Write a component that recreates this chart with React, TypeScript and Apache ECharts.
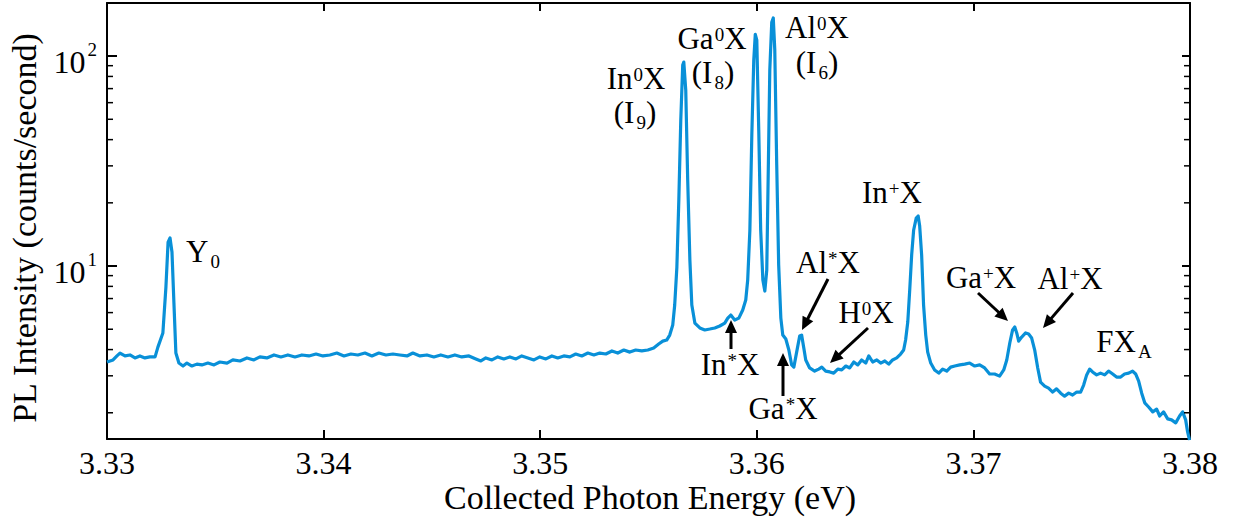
import React, { useEffect, useRef } from 'react';
import * as echarts from 'echarts';

// Collected photon energy (eV)
const energy = [
  3.33000, 3.33028, 3.33046, 3.33060, 3.33083, 3.33106, 3.33129, 3.33152, 3.33175, 3.33198,
  3.33222, 3.33235, 3.33258, 3.33272, 3.33282, 3.33291, 3.33300, 3.33309, 3.33318, 3.33332,
  3.33351, 3.33369, 3.33392, 3.33415, 3.33438, 3.33466, 3.33494, 3.33521, 3.33554, 3.33581,
  3.33614, 3.33646, 3.33678, 3.33706, 3.33738, 3.33771, 3.33803, 3.33835, 3.33868, 3.33900,
  3.33932, 3.33965, 3.33997, 3.34029, 3.34061, 3.34094, 3.34126, 3.34158, 3.34191, 3.34223,
  3.34255, 3.34288, 3.34320, 3.34352, 3.34385, 3.34412, 3.34445, 3.34477, 3.34509, 3.34541,
  3.34574, 3.34606, 3.34638, 3.34671, 3.34703, 3.34726, 3.34749, 3.34777, 3.34804, 3.34832,
  3.34860, 3.34888, 3.34915, 3.34943, 3.34971, 3.34998, 3.35026, 3.35054, 3.35081, 3.35109,
  3.35137, 3.35164, 3.35192, 3.35220, 3.35248, 3.35275, 3.35303, 3.35331, 3.35358, 3.35386,
  3.35414, 3.35441, 3.35469, 3.35497, 3.35524, 3.35547, 3.35566, 3.35584, 3.35598, 3.35612,
  3.35621, 3.35631, 3.35640, 3.35649, 3.35658, 3.35663, 3.35672, 3.35681, 3.35691, 3.35700,
  3.35714, 3.35737, 3.35760, 3.35783, 3.35806, 3.35829, 3.35852, 3.35866, 3.35880, 3.35898,
  3.35917, 3.35935, 3.35949, 3.35958, 3.35968, 3.35977, 3.35986, 3.35993, 3.36000, 3.36009,
  3.36018, 3.36028, 3.36037, 3.36046, 3.36053, 3.36060, 3.36069, 3.36076, 3.36083, 3.36092,
  3.36101, 3.36111, 3.36120, 3.36134, 3.36148, 3.36161, 3.36171, 3.36184, 3.36198, 3.36207,
  3.36217, 3.36226, 3.36244, 3.36267, 3.36286, 3.36300, 3.36318, 3.36337, 3.36355, 3.36374,
  3.36392, 3.36411, 3.36429, 3.36448, 3.36466, 3.36484, 3.36503, 3.36517, 3.36535, 3.36554,
  3.36572, 3.36591, 3.36609, 3.36627, 3.36646, 3.36664, 3.36678, 3.36687, 3.36697, 3.36706,
  3.36715, 3.36724, 3.36736, 3.36745, 3.36752, 3.36761, 3.36770, 3.36780, 3.36789, 3.36803,
  3.36821, 3.36840, 3.36858, 3.36877, 3.36895, 3.36914, 3.36937, 3.36960, 3.36983, 3.37006,
  3.37029, 3.37052, 3.37075, 3.37098, 3.37121, 3.37140, 3.37154, 3.37168, 3.37181, 3.37191,
  3.37200, 3.37209, 3.37223, 3.37241, 3.37255, 3.37269, 3.37283, 3.37297, 3.37310, 3.37329,
  3.37347, 3.37366, 3.37384, 3.37403, 3.37421, 3.37440, 3.37458, 3.37477, 3.37495, 3.37509,
  3.37523, 3.37537, 3.37550, 3.37569, 3.37587, 3.37606, 3.37624, 3.37643, 3.37661, 3.37680,
  3.37698, 3.37717, 3.37735, 3.37749, 3.37763, 3.37777, 3.37791, 3.37809, 3.37828, 3.37846,
  3.37860, 3.37878, 3.37897, 3.37915, 3.37934, 3.37952, 3.37966, 3.37980, 3.37989, 3.37998,
];

// PL intensity (counts/second)
const intensity = [
  3.49, 3.57, 3.73, 3.85, 3.73, 3.77, 3.65, 3.73, 3.65, 3.69,
  3.69, 4.11, 4.80, 7.94, 13.0, 13.6, 11.66, 6.66, 3.85, 3.45,
  3.34, 3.45, 3.34, 3.41, 3.38, 3.45, 3.38, 3.49, 3.45, 3.57,
  3.53, 3.65, 3.57, 3.69, 3.65, 3.77, 3.69, 3.77, 3.69, 3.77,
  3.73, 3.81, 3.73, 3.77, 3.85, 3.73, 3.81, 3.77, 3.85, 3.73,
  3.85, 3.77, 3.81, 3.77, 3.73, 3.85, 3.73, 3.77, 3.69, 3.77,
  3.69, 3.77, 3.69, 3.73, 3.61, 3.53, 3.65, 3.57, 3.69, 3.61,
  3.69, 3.61, 3.73, 3.65, 3.57, 3.69, 3.61, 3.73, 3.65, 3.73,
  3.69, 3.81, 3.73, 3.85, 3.77, 3.85, 3.81, 3.94, 3.85, 3.98,
  3.89, 3.98, 3.94, 3.98, 4.07, 4.25, 4.39, 4.44, 4.69, 5.24,
  6.52, 9.89, 20.6, 49.5, 90.6, 93.6, 68.9, 25.7, 10.7, 6.52,
  5.35, 5.07, 4.96, 5.01, 5.07, 5.18, 5.35, 5.65, 5.84, 5.53,
  5.65, 6.17, 6.89, 8.58, 14.8, 42.1, 95.7, 127, 119, 44.4,
  14.8, 8.58, 7.60, 9.57, 28.7, 85.8, 145, 152, 107, 30.3,
  10.1, 5.65, 4.69, 4.49, 3.98, 3.38, 3.30, 3.89, 4.64, 4.69,
  4.07, 3.57, 3.27, 3.16, 3.23, 3.30, 3.16, 3.13, 3.09, 3.23,
  3.20, 3.34, 3.27, 3.49, 3.38, 3.57, 3.45, 3.73, 3.49, 3.57,
  3.45, 3.53, 3.41, 3.57, 3.65, 3.81, 3.98, 4.44, 5.41, 7.69,
  11.3, 14.8, 16.9, 17.3, 15.5, 11.3, 6.52, 4.69, 3.89, 3.45,
  3.20, 3.09, 3.23, 3.16, 3.30, 3.34, 3.38, 3.41, 3.45, 3.34,
  3.38, 3.27, 3.06, 3.06, 2.99, 3.20, 3.57, 4.30, 4.96, 5.12,
  4.80, 4.39, 4.59, 4.80, 4.74, 4.54, 3.98, 3.27, 2.80, 2.68,
  2.62, 2.51, 2.60, 2.48, 2.40, 2.48, 2.43, 2.51, 2.51, 2.71,
  3.03, 3.23, 3.13, 3.03, 3.09, 3.03, 3.16, 3.06, 2.96, 2.96,
  3.06, 3.09, 3.16, 3.06, 2.83, 2.48, 2.23, 2.13, 2.02, 2.08,
  1.93, 2.02, 1.87, 1.85, 1.79, 1.93, 2.02, 1.85, 1.62, 1.48,
];

const xMin = 3.33;
const xMax = 3.38;
const xInterval = 0.01;
const yMin = 1.5;
const yMax = 179;
const minorTickValues = [2, 3, 4, 5, 6, 7, 8, 9, 20, 30, 40, 50, 60, 70, 80, 90];

const xTitle = 'Collected Photon Energy (eV)';
const yTitle = 'PL Intensity (counts/second)';

// peak labels: m = normal, p = superscript, b = subscript
const labels: { parts: [string, string][]; x: number; top: number }[] = [
  { parts: [['m', 'Y'], ['b', '0']], x: 203, top: 236 },
  { parts: [['m', 'In'], ['p', '0'], ['m', 'X']], x: 636, top: 63 },
  { parts: [['m', '(I'], ['b', '9'], ['m', ')']], x: 635, top: 97 },
  { parts: [['m', 'Ga'], ['p', '0'], ['m', 'X']], x: 712, top: 23 },
  { parts: [['m', '(I'], ['b', '8'], ['m', ')']], x: 713, top: 57 },
  { parts: [['m', 'Al'], ['p', '0'], ['m', 'X']], x: 817, top: 12 },
  { parts: [['m', '(I'], ['b', '6'], ['m', ')']], x: 817, top: 47 },
  { parts: [['m', 'In'], ['p', '+'], ['m', 'X']], x: 892, top: 177 },
  { parts: [['m', 'Al'], ['p', '*'], ['m', 'X']], x: 828, top: 247 },
  { parts: [['m', 'H'], ['p', '0'], ['m', 'X']], x: 866, top: 297 },
  { parts: [['m', 'Ga'], ['p', '+'], ['m', 'X']], x: 981, top: 262 },
  { parts: [['m', 'Al'], ['p', '+'], ['m', 'X']], x: 1070, top: 263 },
  { parts: [['m', 'FX'], ['b', 'A']], x: 1124, top: 326 },
  { parts: [['m', 'In'], ['p', '*'], ['m', 'X']], x: 730, top: 349 },
  { parts: [['m', 'Ga'], ['p', '*'], ['m', 'X']], x: 783, top: 393 },
];

// arrows: [startX, startY, tipX, tipY]
const arrows: [number, number, number, number][] = [
  [731, 349, 731, 320],
  [783, 396, 783, 353],
  [828, 279, 802, 330],
  [868, 328, 830, 363],
  [978, 293, 1008, 321],
  [1073, 293, 1043, 328],
];

const FONT = 'Liberation Serif';
const LINE_COLOR = '#0990d8';

const rich = {
  m: { fontSize: 31, lineHeight: 31, fontFamily: FONT, verticalAlign: 'top', color: '#000' },
  p: { fontSize: 19, lineHeight: 19, fontFamily: FONT, verticalAlign: 'top', padding: [2, 0, 0, 1], color: '#000' },
  b: { fontSize: 19, lineHeight: 19, fontFamily: FONT, verticalAlign: 'top', padding: [16, 0, 0, 2], color: '#000' },
};

function textEl(text: string, x: number, y: number, r: any, size: number, rotation = 0) {
  return {
    type: 'text',
    x,
    y,
    rotation,
    silent: true,
    style: {
      text,
      rich: r,
      fontFamily: FONT,
      fontSize: size,
      fill: '#000',
      align: 'center',
      textAlign: 'center',
      verticalAlign: rotation ? 'middle' : 'top',
      textVerticalAlign: rotation ? 'middle' : 'top',
    },
  };
}

function buildGraphics() {
  const els: any[] = [];
  labels.forEach((l) => {
    els.push(textEl(l.parts.map(([k, t]) => `{${k}|${t}}`).join(''), l.x, l.top, rich, 31));
  });
  // axis titles
  els.push(textEl(xTitle, 650, 480, undefined, 34));
  els.push(textEl(yTitle, 24, 228, undefined, 34, Math.PI / 2));
  arrows.forEach(([sx, sy, tx, ty]) => {
    const dx = tx - sx;
    const dy = ty - sy;
    const len = Math.sqrt(dx * dx + dy * dy);
    const ux = dx / len;
    const uy = dy / len;
    const head = 13;
    const hw = 6;
    const bx = tx - ux * head;
    const by = ty - uy * head;
    els.push({
      type: 'line',
      silent: true,
      shape: { x1: sx, y1: sy, x2: bx + ux * 2, y2: by + uy * 2 },
      style: { stroke: '#000', lineWidth: 3 },
    });
    els.push({
      type: 'polygon',
      silent: true,
      shape: {
        points: [
          [tx, ty],
          [bx - uy * hw, by + ux * hw],
          [bx + uy * hw, by - ux * hw],
        ],
      },
      style: { fill: '#000' },
    });
  });
  return els;
}

export default function App() {
  const ref = useRef<HTMLDivElement>(null);

  useEffect(() => {
    document.body.style.margin = '0';
    if (!ref.current) return;
    const chart = echarts.init(ref.current, undefined, { renderer: 'svg' });

    const lineData = energy.map((e, i) => [e, intensity[i]]);
    const yLabelFmt = (v: number) => {
      const lg = Math.log10(v);
      const e = Math.round(lg);
      if (Math.abs(lg - e) > 1e-6) return '';
      return `{n|10}{e|${e}}`;
    };

    chart.setOption({
      animation: false,
      backgroundColor: '#fff',
      textStyle: { fontFamily: FONT },
      grid: { left: 107, right: 44, top: 3, bottom: 86, containLabel: false, outerBoundsMode: 'none' },
      xAxis: [
        {
          type: 'value',
          position: 'bottom',
          min: xMin,
          max: xMax,
          interval: xInterval,
          axisLine: { show: true, onZero: false, lineStyle: { color: '#000', width: 2 } },
          axisTick: { show: true, inside: true, length: 9, lineStyle: { color: '#000', width: 2 } },
          axisLabel: {
            margin: 8,
            fontFamily: FONT,
            fontSize: 32,
            color: '#000',
            formatter: (v: number) => `{t|${v.toFixed(2)}}`,
            rich: { t: { fontFamily: FONT, fontSize: 32, color: '#000' } },
          },
          splitLine: { show: false },
        },
        {
          type: 'value',
          position: 'top',
          min: xMin,
          max: xMax,
          interval: xInterval,
          axisLine: { show: true, onZero: false, lineStyle: { color: '#000', width: 2 } },
          axisTick: { show: true, inside: true, length: 8, lineStyle: { color: '#000', width: 2 } },
          axisLabel: { show: false },
          splitLine: { show: false },
        },
      ],
      yAxis: [
        {
          type: 'log',
          logBase: 10,
          position: 'left',
          min: yMin,
          max: yMax,
          axisLine: { show: true, onZero: false, lineStyle: { color: '#000', width: 2 } },
          axisTick: { show: true, inside: true, length: 10, lineStyle: { color: '#000', width: 2 } },
          axisLabel: {
            margin: 10,
            showMinLabel: false,
            showMaxLabel: false,
            fontFamily: FONT,
            formatter: yLabelFmt,
            rich: {
              n: { fontFamily: FONT, fontSize: 32, lineHeight: 32, color: '#000', verticalAlign: 'top', padding: [6, 0, 0, 0] },
              e: { fontFamily: FONT, fontSize: 19, lineHeight: 19, color: '#000', verticalAlign: 'top', padding: [0, 0, 0, 2] },
            },
          },
          splitLine: { show: false },
        },
        {
          type: 'log',
          logBase: 10,
          position: 'right',
          min: yMin,
          max: yMax,
          axisLine: { show: true, onZero: false, lineStyle: { color: '#000', width: 2 } },
          axisTick: { show: true, inside: true, length: 8, lineStyle: { color: '#000', width: 2 } },
          axisLabel: { show: false },
          splitLine: { show: false },
        },
      ],
      series: [
        {
          type: 'line',
          xAxisIndex: 0,
          yAxisIndex: 0,
          data: lineData,
          showSymbol: false,
          symbol: 'none',
          smooth: false,
          lineStyle: { color: LINE_COLOR, width: 3.2, join: 'round' },
          z: 3,
        },
        {
          type: 'custom',
          xAxisIndex: 0,
          yAxisIndex: 0,
          silent: true,
          z: 4,
          data: minorTickValues.map((v) => [xMin, v]),
          renderItem: (params: any, api: any) => {
            const cs = params.coordSys;
            const y = api.coord([xMin, api.value(1)])[1];
            return {
              type: 'group',
              children: [
                {
                  type: 'line',
                  shape: { x1: cs.x, y1: y, x2: cs.x + 6, y2: y },
                  style: { stroke: '#000', lineWidth: 1.5 },
                },
                {
                  type: 'line',
                  shape: { x1: cs.x + cs.width - 6, y1: y, x2: cs.x + cs.width, y2: y },
                  style: { stroke: '#000', lineWidth: 1.5 },
                },
              ],
            };
          },
        },
      ],
      graphic: buildGraphics(),
    });

    return () => {
      chart.dispose();
    };
  }, []);

  return <div ref={ref} style={{ width: 1234, height: 525 }} />;
}
